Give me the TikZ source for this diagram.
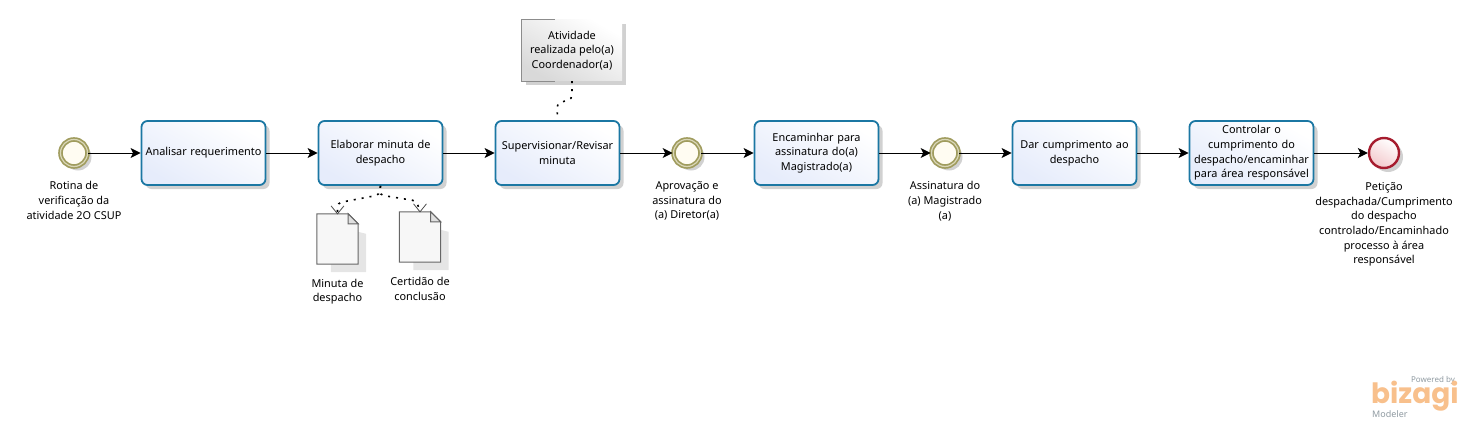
\documentclass[tikz,border=0pt]{standalone}
\usepackage{fontspec}
\setmainfont{Noto Sans}
\newfontfamily\logofont{Poppins}
\usetikzlibrary{calc,positioning,shadows,arrows.meta}
\definecolor{taskline}{HTML}{1B77A3}
\definecolor{taskfill}{HTML}{E6ECFB}
\definecolor{ringline}{HTML}{A09C5E}
\definecolor{ringfill}{HTML}{FFFCF2}
\definecolor{endline}{HTML}{A61C2E}
\definecolor{endfill}{HTML}{F3C9CC}
\definecolor{notefill}{HTML}{D9D9D9}
\definecolor{logoorange}{HTML}{F8C08C}
\definecolor{logogray}{HTML}{8F9AA1}
\tikzset{
  softshadow/.style={drop shadow={shadow xshift=4pt,shadow yshift=-4pt,opacity=.18,fill=black}},
  task/.style={rectangle,rounded corners=6pt,draw=taskline,line width=1.8pt,
    top color=white,bottom color=taskfill,shading angle=-30,softshadow,
    minimum width=124pt,minimum height=64pt,inner sep=1pt,align=center,text width=122pt,txt},
  txt/.style={font=\fontsize{10.9}{14.7}\selectfont},
  lbl/.style={txt,align=center,inner sep=0pt},
  ringevent/.style={circle,draw=ringline,line width=1.7pt,double=ringfill!60!ringline,double distance=1.2pt,
    fill=ringfill,minimum size=27pt,inner sep=0pt,softshadow},
  endevent/.style={circle,draw=endline,line width=2.4pt,top color=white,bottom color=endfill,
    shading angle=-30,minimum size=30pt,inner sep=0pt,softshadow},
  flow/.style={-{Stealth[length=10pt,width=10pt,inset=2.5pt]},line width=1pt,black},
  assoc/.style={line width=1.6pt,dash pattern=on 2pt off 6pt,rounded corners=4pt},
  docbox/.style={rectangle,minimum width=41pt,minimum height=50pt,inner sep=0pt},
  docline/.style={draw=black!60,line width=1pt,fill=black!3},
  note/.style={rectangle,minimum width=100pt,minimum height=61pt,inner sep=0pt,txt,align=center,
    top color=white,bottom color=notefill,shading angle=-30,softshadow},
}
\newcommand{\docsheet}[2]{
\node[docbox] (#1) at (#2) {};
\fill[black,opacity=.1] ($(#1.north east)+(0,18)$) -- ($(#1.north east)+(8,20)$) -- ($(#1.south east)+(8,8)$) -- ($(#1.south west)+(14,8)$) -- ($(#1.south west)+(14,0)$) -- (#1.south east) -- cycle;
\draw[docline] (#1.north west) -- ($(#1.north east)+(-10,0)$) -- ($(#1.north east)+(0,10)$) -- (#1.south east) -- (#1.south west) -- cycle;
\draw[draw=black!60,line width=1pt,fill=black!12] ($(#1.north east)+(-10,0)$) -- ($(#1.north east)+(-10,10)$) -- ($(#1.north east)+(0,10)$) -- cycle;
\draw[black!70,line width=.8pt] ($(#1.north)+(-6.5,-8)$) -- (#1.north) -- ($(#1.north)+(6.5,-8)$);
}
\begin{document}
\begin{tikzpicture}[x=1pt,y=-1pt]
\useasboundingbox (0,0) rectangle (1478,428);
% events and tasks
\node[ringevent] (start) at (74,153) {};
\node[task] (analisar) at (203.5,153) {Analisar requerimento};
\node[task] (elaborar) at (380.5,153) {Elaborar minuta de\\despacho};
\node[task] (revisar) at (557.5,153) {Supervisionar/Revisar\\minuta};
\node[ringevent] (aprovacao) at (687,153) {};
\node[task] (encaminhar) at (816.5,153) {Encaminhar para\\assinatura do(a)\\Magistrado(a)};
\node[ringevent] (assinatura) at (945,153) {};
\node[task] (cumprir) at (1074.5,153) {Dar cumprimento ao\\despacho};
\node[task] (controlar) at (1251.5,153) {Controlar o\\cumprimento do\\despacho/encaminhar\\para área responsável};
\node[endevent] (fim) at (1384,153) {};
% labels of the events
\node[lbl,below=14pt of start] (startlbl) {Rotina de\\verificação da\\atividade 2O CSUP};
\node[lbl,below=14pt of aprovacao] (aprovacaolbl) {Aprovação e\\assinatura do\\(a) Diretor(a)};
\node[lbl,below=14pt of assinatura] (assinaturalbl) {Assinatura do\\(a) Magistrado\\(a)};
\node[lbl,below=13pt of fim] (fimlbl) {Petição\\despachada/Cumprimento\\do despacho\\controlado/Encaminhado\\processo à área\\responsável};
% flows
\draw[flow] (start) -- (analisar);
\draw[flow] (analisar) -- (elaborar);
\draw[flow] (elaborar) -- (revisar);
\draw[flow] (revisar) -- (aprovacao);
\draw[flow] (aprovacao) -- (encaminhar);
\draw[flow] (encaminhar) -- (assinatura);
\draw[flow] (assinatura) -- (cumprir);
\draw[flow] (cumprir) -- (controlar);
\draw[flow] (controlar) -- (fim);
% documents
\docsheet{minuta}{337.5,239}
\docsheet{certidao}{420,237}
\node[lbl,below=14.5pt of minuta] (minutalbl) {Minuta de\\despacho};
\node[lbl,below=15pt of certidao] (certidaolbl) {Certidão de\\conclusão};
\draw[assoc] (elaborar.south) -- ++(-1,9) -- ++(-42,8) -- (minuta.north);
\draw[assoc] (elaborar.south) -- ++(-1,9) -- ++(37,6) -- (certidao.north);
% annotation
\node[note] (aviso) at (572,50.5) {Atividade\\realizada pelo(a)\\Coordenador(a)};
\draw[black!45,line width=1pt] ($(aviso.north west)+(33,0)$) -- (aviso.north west) -- (aviso.south west) -- ++(33,0);
\draw[assoc] (aviso.south) -- ++(0,18) -- ++(-15,4) -- (revisar.north);
% logo
\node[logogray,font=\fontsize{8}{8}\bfseries\selectfont,inner sep=0pt] (powered) at (1433,380.5) {Powered by};
\node[logoorange,font=\logofont\bfseries\fontsize{28}{28}\selectfont,inner sep=0pt,anchor=base west] (bizagi) at (1371,403) {bizagi};
\node[logogray,font=\fontsize{9}{9}\selectfont,inner sep=0pt,anchor=west] (modeler) at (1372,414) {Modeler};
\end{tikzpicture}
\end{document}
